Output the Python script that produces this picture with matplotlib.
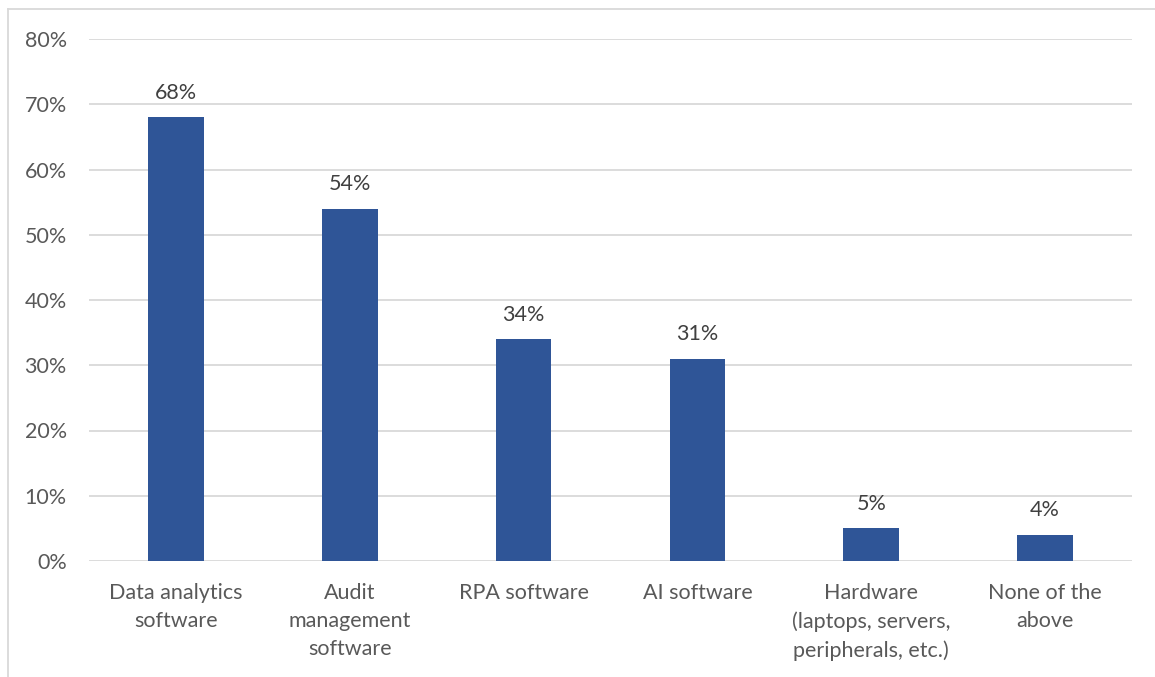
import matplotlib.pyplot as plt
from matplotlib.lines import Line2D

categories = ["Data analytics\nsoftware", "Audit\nmanagement\nsoftware", "RPA software",
              "AI software", "Hardware\n(laptops, servers,\nperipherals, etc.)", "None of the\nabove"]
values = [68, 54, 34, 31, 5, 4]
yticks = [0, 10, 20, 30, 40, 50, 60, 70, 80]

plt.rcParams['font.family'] = ['Lato', 'DejaVu Sans']
txt = '#595959'
fs = 15.5

fig = plt.figure(figsize=(11.55, 6.77), dpi=100)
ax = fig.add_axes([89 / 1155, 1 - 561 / 677, (1132 - 89) / 1155, (561 - 39) / 677])

x = range(len(categories))
ax.bar(x, values, width=0.32, color='#2F5597', zorder=3)
for i, v in zip(x, values):
    ax.annotate(f"{v}%", (i, v), xytext=(0, 10.5), textcoords='offset points',
                ha='center', va='bottom', fontsize=fs, color='#404040')

ax.set_xlim(-0.5, len(categories) - 0.5)
ax.set_ylim(0, 80)
ax.set_yticks(yticks)
ax.set_yticklabels([f"{t}%" for t in yticks])
ax.set_xticks(list(x))
ax.set_xticklabels(categories, linespacing=1.5)
ax.tick_params(axis='both', length=0, labelsize=fs, labelcolor=txt)
ax.tick_params(axis='y', pad=16)
ax.tick_params(axis='x', pad=16)
ax.grid(axis='y', color='#D9D9D9', linewidth=1.3, zorder=0)
for s in ax.spines.values():
    s.set_visible(False)

# outer chart frame (left and top edges visible)
fig.add_artist(Line2D([8 / 1155, 8 / 1155], [0, 1 - 9 / 677], color='#D9D9D9', lw=1.3,
                      transform=fig.transFigure))
fig.add_artist(Line2D([8 / 1155, 1], [1 - 9 / 677, 1 - 9 / 677], color='#D9D9D9', lw=1.3,
                      transform=fig.transFigure))

plt.savefig("out.png", dpi=100)
